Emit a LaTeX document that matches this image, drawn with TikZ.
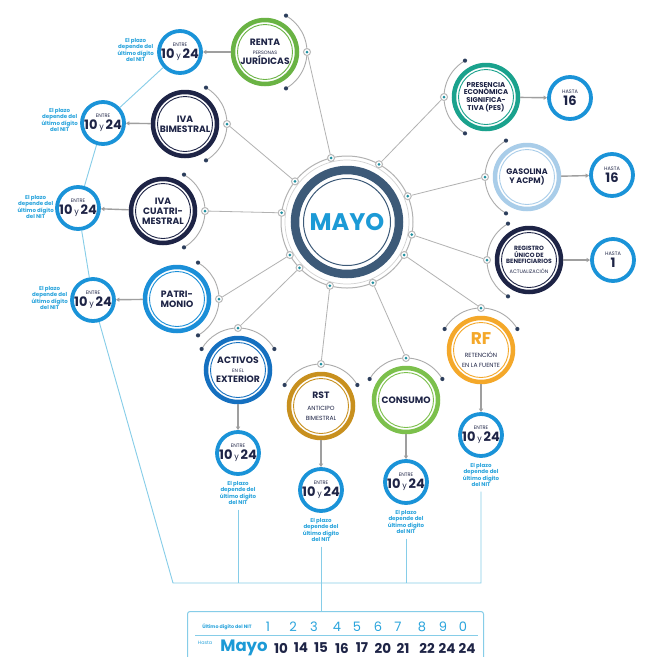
\documentclass[tikz,border=0pt]{standalone}
\usepackage{fontspec}
\setmainfont{Poppins}
\usetikzlibrary{calc,arrows.meta}
\definecolor{navy}{HTML}{1E2446}
\definecolor{dnavy}{HTML}{2C3E5C}
\definecolor{slate}{HTML}{3D5A78}
\definecolor{mayoblue}{HTML}{1C9AD6}
\definecolor{eblue}{HTML}{1A93D8}
\definecolor{tblue}{HTML}{2AA4DC}
\definecolor{lblue}{HTML}{86CDE8}
\definecolor{teal2}{HTML}{1E8FA0}
\definecolor{cgreen}{HTML}{6AB344}
\definecolor{cteal}{HTML}{1AA28D}
\definecolor{cgas}{HTML}{A9CDE9}
\definecolor{cpat}{HTML}{1B8FD8}
\definecolor{cact}{HTML}{1570C0}
\definecolor{crst}{HTML}{C8901E}
\definecolor{ccons}{HTML}{7CC04C}
\definecolor{crf}{HTML}{F4A82A}
\newcommand{\fsz}[2]{\fontsize{#1pt}{#2pt}\selectfont}
\newcommand{\entre}{{\mdseries\fsz{5}{5.5}ENTRE}\\[-0.5pt]{\bfseries\fsz{13}{13}10\hspace{1.8pt}{\mdseries\fsz{8}{8}y}\hspace{1.8pt}24}}
\newcommand{\hasta}[1]{{\mdseries\fsz{5}{5.5}HASTA}\\[0pt]{\bfseries\fsz{13}{13}#1}}
\newcommand{\plazo}{El plazo\\depende del\\último dígito\\del NIT}
\newcommand{\sm}[1]{{\mdseries\fsz{6}{7}#1}}
\tikzset{
  sat/.style={circle, draw=#1, line width=4.5pt, minimum size=64pt, inner sep=0pt, align=center, text=navy, fill=white,
    font=\bfseries\fsz{9.2}{10},
    path picture={\draw[#1, line width=0.9pt] (path picture bounding box.center) circle (27.5pt);}},
  ent/.style={circle, draw=eblue, line width=3.8pt, minimum size=42pt, inner sep=0pt, align=center, text=navy, fill=white},
  cdot/.style={circle, draw=gray!55, fill=white, line width=1pt, minimum size=7pt, inner sep=0pt,
    path picture={\fill[teal2] (path picture bounding box.center) circle (1.5pt);}},
  spoke/.style={draw=gray!60, line width=0.8pt},
  feed/.style={draw=gray!75, line width=1.4pt, -{Triangle[length=3.5pt,width=4pt]}},
  tree/.style={draw=lblue, line width=0.9pt},
  note/.style={text=tblue, font=\bfseries\fsz{5.5}{6}, align=center, inner sep=0pt},
  orb/.style={draw=gray!65, line width=0.9pt},
  digit/.style={text=tblue, font=\fsz{13}{13}, inner sep=0pt},
  num/.style={text=navy, font=\bfseries\fsz{13.5}{14}, inner sep=0pt},
}
\newcommand{\orbit}[2]{%
  \draw[orb] ($(#1.center)+(#2-60:42pt)$) arc[start angle=#2-60, end angle=#2+60, radius=42pt];
  \fill[dnavy] ($(#1.center)+(#2-60:42pt)$) circle (2.1pt);
  \fill[dnavy] ($(#1.center)+(#2+60:42pt)$) circle (2.1pt);
  \node[cdot] (#1-d) at ($(#1.center)+(#2:42pt)$) {};
}
\begin{document}
\begin{tikzpicture}[x=1pt,y=1pt]
\useasboundingbox (0,0) rectangle (646,-657);
\fill[white] (0,0) rectangle (646,-657);

% centre
\node[circle, draw=slate, line width=8.5pt, minimum size=104pt, inner sep=0pt, text=mayoblue,
  font=\bfseries\fsz{24}{24},
  path picture={\draw[slate, line width=1pt] (path picture bounding box.center) circle (43.5pt);}] (mayo) at (347,-222) {MAYO};
\draw[gray!35, line width=0.7pt] (mayo.center) circle (62pt);
\draw[gray!60, line width=1pt] (mayo.center) circle (66pt);
\foreach \a/\n in {104/m1, 142/m2, 172/m3, -150/m4, -136/m5, -105/m6, -67/m7, -30/m8, 61/m9, 23/m10, -11/m11}
  \node[cdot] (\n) at ($(mayo.center)+(\a:66pt)$) {};

% satellites
\node[sat=cgreen] (renta) at (265,-52) {RENTA\\[-1pt]{\mdseries\fsz{4.8}{5}PERSONAS}\\[0pt]JURÍDICAS};
\node[sat=navy] (ivab) at (185,-124) {IVA\\BIMESTRAL};
\node[sat=navy] (ivac) at (163,-211) {IVA\\CUATRI-\\MESTRAL};
\node[sat=cpat] (patri) at (177,-299) {PATRI-\\MONIO};
\node[sat=cact] (activos) at (238,-370) {ACTIVOS\\[-1pt]{\mdseries\fsz{4.8}{5}EN EL}\\[0pt]EXTERIOR};
\node[sat=crst] (rst) at (321,-406) {RST\\[2pt]\sm{ANTICIPO}\\\sm{BIMESTRAL}};
\node[sat=ccons] (consumo) at (406,-400) {CONSUMO};
\node[sat=crf] (rf) at (481,-350) {{\color{crf}\fsz{17}{17}RF}\\[3pt]\sm{RETENCIÓN}\\\sm{EN LA FUENTE}};
\node[sat=cteal, font=\bfseries\fsz{7}{7.6}] (pes) at (486,-97) {PRESENCIA\\ECONÓMICA\\SIGNIFICA-\\TIVA (PES)};
\node[sat=cgas, font=\bfseries\fsz{8}{9}] (gas) at (527,-177) {GASOLINA\\Y ACPM)};
\node[sat=navy, font=\bfseries\fsz{6.1}{6.6}] (reg) at (529,-260) {REGISTRO\\ÚNICO DE\\BENEFICIARIOS\\[3pt]{\mdseries\fsz{5}{5}ACTUALIZACIÓN}};

% orbits
\orbit{renta}{0}
\orbit{ivab}{0}
\orbit{ivac}{0}
\orbit{patri}{0}
\orbit{activos}{90}
\orbit{rst}{90}
\orbit{consumo}{90}
\orbit{rf}{90}
\orbit{pes}{180}
\orbit{gas}{180}
\orbit{reg}{180}

% spokes
\draw[spoke] (m1) -- (renta-d);
\draw[spoke] (m2) -- (ivab-d);
\draw[spoke] (m3) -- (ivac-d);
\draw[spoke] (m4) -- (patri-d);
\draw[spoke] (m5) -- (activos-d);
\draw[spoke] (m6) -- (rst-d);
\draw[spoke] (m7) -- (consumo-d);
\draw[spoke] (m8) -- (rf-d);
\draw[spoke] (m9) -- (pes-d);
\draw[spoke] (m10) -- (gas-d);
\draw[spoke] (m11) -- (reg-d);

% deadline circles
\node[ent] (e1) at (180,-52) {\entre};
\node[ent] (e2) at (103,-123) {\entre};
\node[ent] (e3) at (78,-208) {\entre};
\node[ent] (e4) at (93,-300) {\entre};
\node[ent] (e5) at (238,-453) {\entre};
\node[ent] (e6) at (321,-490) {\entre};
\node[ent] (e7) at (406,-482) {\entre};
\node[ent] (e8) at (481,-435) {\entre};
\node[ent] (h1) at (570,-98) {\hasta{16}};
\node[ent] (h2) at (612,-175) {\hasta{16}};
\node[ent] (h3) at (613,-260) {\hasta{1}};

\draw[feed] (renta) -- (e1);
\draw[feed] (ivab) -- (e2);
\draw[feed] (ivac) -- (e3);
\draw[feed] (patri) -- (e4);
\draw[feed] (activos) -- (e5);
\draw[feed] (rst) -- (e6);
\draw[feed] (consumo) -- (e7);
\draw[feed] (rf) -- (e8);
\draw[feed] (pes) -- (h1);
\draw[feed] (gas) -- (h2);
\draw[feed] (reg) -- (h3);

% notes
\node[note, anchor=east] (t1) at (154,-50) {\plazo};
\node[note, anchor=east] (t2) at (78,-120) {\plazo};
\node[note, anchor=east] (t3) at (54,-207) {\plazo};
\node[note, anchor=east] (t4) at (68,-298) {\plazo};
\node[note, anchor=north] (t5) at (238,-481) {\plazo};
\node[note, anchor=north] (t6) at (321,-518) {\plazo};
\node[note, anchor=north] (t7) at (406,-510) {\plazo};
\node[note, anchor=north] (t8) at (481,-463) {\plazo};

% table
\node[draw=lblue, line width=1pt, rounded corners=2.5pt, minimum width=296pt, minimum height=60pt,
  anchor=north west, inner sep=0pt] (tab) at (187,-611) {};

% tree lines
\coordinate (corner) at (173,-583);
\draw[tree] (e1) -- (e2);
\draw[tree] (e2) -- (e3);
\draw[tree] (e3) -- (e4);
\draw[tree] (e4) -- (corner) -- (corner -| t8.south) -- ([yshift=-5pt]t8.south);
\draw[tree] ([yshift=-5pt]t5.south) -- (t5.south |- corner);
\draw[tree] ([yshift=-5pt]t7.south) -- (t7.south |- corner);
\draw[tree] ([yshift=-5pt]t6.south) -- (t6.south |- tab.north);

% table contents
\node[text=tblue, font=\bfseries\fsz{4.8}{5}, inner sep=0pt] (lab1) at (227,-627) {Último dígito del NIT};
\draw[draw=lblue, line width=0.6pt] (195,-635) -- (478,-635);
\node[text=tblue, font=\fsz{4.8}{5}, inner sep=0pt] (lab2) at (205,-643) {Hasta};
\node[text=mayoblue, font=\bfseries\fsz{16.5}{16.5}, inner sep=0pt] (lab3) at (244,-648) {Mayo};
\foreach \x/\d in {268/1, 293/2, 314/3, 337/4, 357/5, 378/6, 398/7, 422/8, 443/9, 463/0}
  \node[digit] at (\x,-627) {\d};
\foreach \x/\d in {281/10, 301/14, 321/15, 342/16, 362/17, 383/20, 403/21, 427/22, 447/24, 467/24}
  \node[num] at (\x,-648) {\d};
\end{tikzpicture}
\end{document}
